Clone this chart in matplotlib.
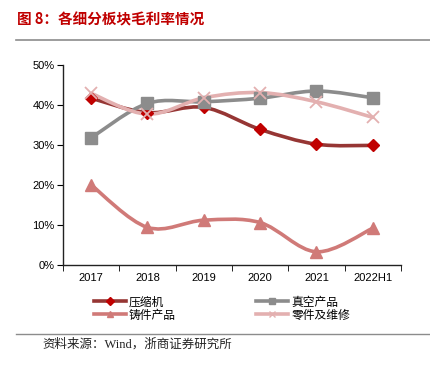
import numpy as np
import matplotlib
matplotlib.use("Agg")
import matplotlib.pyplot as plt
from matplotlib.path import Path
from matplotlib.patches import PathPatch
from matplotlib.lines import Line2D

plt.rcParams['font.family'] = ['Liberation Sans', 'Noto Sans CJK SC']

# ==================== 数据 ====================
years = ['2017', '2018', '2019', '2020', '2021', '2022H1']
compressor = [41.7, 38.1, 39.4, 33.9, 30.2, 29.9]   # 压缩机
vacuum = [31.8, 40.4, 40.8, 41.7, 43.5, 41.8]       # 真空产品
casting = [20.0, 9.4, 11.2, 10.6, 3.3, 9.2]         # 铸件产品
parts = [42.9, 37.7, 41.8, 43.1, 40.8, 36.9]        # 零件及维修

series = [
    ('压缩机', compressor, '#963634', '#C00000', 'D', 6.5),
    ('真空产品', vacuum, '#8C8C8C', '#8C8C8C', 's', 8),
    ('铸件产品', casting, '#D07A78', '#D07A78', '^', 8.5),
    ('零件及维修', parts, '#E3B0B0', '#E3B0B0', 'x', 9),
]


def smooth_path(xs, ys):
    """Excel 风格平滑曲线：Catmull-Rom 转三次贝塞尔"""
    pts = np.column_stack([xs, ys]).astype(float)
    n = len(pts)
    verts = [pts[0]]
    codes = [Path.MOVETO]
    for i in range(n - 1):
        p0 = pts[i - 1] if i > 0 else pts[i]
        p1, p2 = pts[i], pts[i + 1]
        p3 = pts[i + 2] if i + 2 < n else pts[i + 1]
        c1 = p1 + (p2 - p0) / 6.0
        c2 = p2 - (p3 - p1) / 6.0
        verts += [c1, c2, p2]
        codes += [Path.CURVE4] * 3
    return Path(verts, codes)


fig = plt.figure(figsize=(4.30, 3.69), dpi=100)
ax = fig.add_axes([63 / 430, 1 - 265 / 369, (401 - 63) / 430, 200 / 369])

x = np.arange(len(years))
handles = {}
for name, vals, lc, mc, mk, ms in series:
    patch = PathPatch(smooth_path(x, vals), facecolor='none', edgecolor=lc,
                      lw=2.6, capstyle='round', joinstyle='round')
    ax.add_patch(patch)
    if mk == 'x':
        ax.plot(x, vals, ls='none', marker=mk, ms=ms, mew=1.3, color=mc, zorder=3)
        h = Line2D([], [], color=lc, lw=2.6, marker=mk, ms=4, mew=1, mec=mc)
    else:
        ax.plot(x, vals, ls='none', marker=mk, ms=ms, mfc=mc, mec=mc, zorder=3)
        h = Line2D([], [], color=lc, lw=2.6, marker=mk, ms=4, mfc=mc, mec=mc)
    handles[name] = h

ax.set_xlim(-0.5, len(years) - 0.5)
ax.set_ylim(0, 50)
ax.set_yticks(np.arange(0, 51, 10))
ax.set_yticklabels([f'{v}%' for v in range(0, 51, 10)])
ax.set_xticks(x)
ax.set_xticklabels(years)
ax.set_xticks(np.arange(-0.5, len(years), 1), minor=True)
ax.tick_params(axis='x', which='major', length=0, pad=6)
ax.tick_params(axis='x', which='minor', length=4, direction='out')
ax.tick_params(axis='y', length=4, direction='out', pad=2)
ax.tick_params(labelsize=8)
for s in ['top', 'right']:
    ax.spines[s].set_visible(False)
for s in ['left', 'bottom']:
    ax.spines[s].set_color('#222222')
    ax.spines[s].set_linewidth(1)

# 图例
order = ['压缩机', '铸件产品', '真空产品', '零件及维修']
leg = fig.legend([handles[k] for k in order], order, ncol=2, frameon=False,
                 loc='upper left', bbox_to_anchor=(83 / 430, 1 - 285 / 369),
                 prop={'family': ['Noto Sans CJK SC'], 'size': 8.5},
                 handlelength=2.7, handletextpad=0.3,
                 columnspacing=6.8, labelspacing=0.0)

# 标题与来源
fig.text(17 / 430, 1 - 19 / 369, '图 8：各细分板块毛利率情况', color='#C00000',
         fontsize=10.5, fontweight='bold', va='center',
         family=['Noto Sans CJK SC'])
fig.add_artist(Line2D([16 / 430, 1], [1 - 40 / 369] * 2, color='#8C8C8C', lw=1.2))
fig.add_artist(Line2D([16 / 430, 1], [1 - 334 / 369] * 2, color='#8C8C8C', lw=1.0))
fig.text(42 / 430, 1 - 344 / 369, '资料来源：Wind，浙商证券研究所', color='#222222',
         fontsize=9, va='center', family=['Liberation Serif', 'Noto Sans CJK SC'])

fig.savefig('out.png', dpi=100)
